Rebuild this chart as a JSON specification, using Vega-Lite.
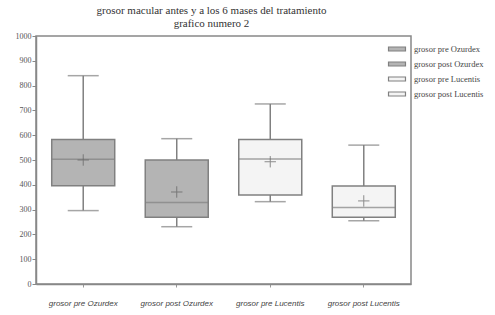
{
  "$schema": "https://vega.github.io/schema/vega-lite/v6.json",
  "autosize": "none",
  "width": 375,
  "height": 248,
  "padding": {"left": 36, "top": 36, "right": 84, "bottom": 31},
  "background": "white",
  "title": {
    "text": ["grosor macular antes y a los 6 mases del tratamiento", "grafico numero 2"],
    "font": "Liberation Serif",
    "fontSize": 11,
    "fontWeight": "normal",
    "color": "#333",
    "lineHeight": 13,
    "offset": 3,
    "dx": -12
  },
  "data": {
    "values": [
      {"grupo": "grosor pre Ozurdex", "lower": 296, "q1": 396, "median": 503, "q3": 583, "upper": 840, "mean": 500},
      {"grupo": "grosor post Ozurdex", "lower": 231, "q1": 269, "median": 329, "q3": 500, "upper": 586, "mean": 371},
      {"grupo": "grosor pre Lucentis", "lower": 332, "q1": 359, "median": 504, "q3": 583, "upper": 726, "mean": 493},
      {"grupo": "grosor post Lucentis", "lower": 255, "q1": 269, "median": 308, "q3": 395, "upper": 560, "mean": 335}
    ]
  },
  "encoding": {
    "x": {
      "field": "grupo",
      "type": "nominal",
      "sort": null,
      "scale": {"paddingInner": 0.33, "paddingOuter": 0.17},
      "axis": {
        "title": null,
        "labelAngle": 0,
        "labelFont": "Liberation Sans",
        "labelFontStyle": "italic",
        "labelFontSize": 8,
        "labelColor": "#444",
        "labelPadding": 12,
        "tickSize": 3,
        "tickColor": "#999",
        "domainColor": "#888",
        "domainWidth": 1.5
      }
    }
  },
  "layer": [
    {
      "mark": {"type": "rule", "color": "#808080", "strokeWidth": 1.5},
      "encoding": {
        "y": {
          "field": "lower",
          "type": "quantitative",
          "scale": {"domain": [0, 1000], "nice": false},
          "axis": {"values": [0, 100, 200, 300, 400, 500, 600, 700, 800, 900, 1000]}
        },
        "y2": {"field": "upper"}
      }
    },
    {
      "mark": {"type": "tick", "color": "#808080", "thickness": 1.5, "size": 31},
      "encoding": {"y": {"field": "lower", "type": "quantitative", "axis": {"values": [0, 100, 200, 300, 400, 500, 600, 700, 800, 900, 1000]}}}
    },
    {
      "mark": {"type": "tick", "color": "#808080", "thickness": 1.5, "size": 31},
      "encoding": {"y": {"field": "upper", "type": "quantitative", "axis": {"values": [0, 100, 200, 300, 400, 500, 600, 700, 800, 900, 1000]}}}
    },
    {
      "mark": {"type": "bar", "stroke": "#808080", "strokeWidth": 1.5, "size": 63},
      "encoding": {
        "y": {"field": "q1", "type": "quantitative", "axis": {"values": [0, 100, 200, 300, 400, 500, 600, 700, 800, 900, 1000]}},
        "y2": {"field": "q3"},
        "fill": {
          "field": "grupo",
          "type": "nominal",
          "sort": null,
          "scale": {
            "domain": ["grosor pre Ozurdex", "grosor post Ozurdex", "grosor pre Lucentis", "grosor post Lucentis"],
            "range": ["#b4b4b4", "#b4b4b4", "#f4f4f4", "#f4f4f4"]
          },
          "legend": {
            "title": null,
            "orient": "none",
            "legendX": 356,
            "legendY": 8,
            "padding": 0,
            "symbolType": "M-2,-0.47H2V0.47H-2Z",
            "symbolSize": 72,
            "symbolStrokeColor": "#808080",
            "symbolStrokeWidth": 1.2,
            "symbolOpacity": 1,
            "labelFont": "Liberation Serif",
            "labelFontSize": 8.5,
            "labelColor": "#444",
            "labelOffset": 12,
            "rowPadding": 5
          }
        }
      }
    },
    {
      "mark": {"type": "tick", "color": "#808080", "thickness": 1.5, "size": 63},
      "encoding": {"y": {"field": "median", "type": "quantitative", "axis": {"values": [0, 100, 200, 300, 400, 500, 600, 700, 800, 900, 1000]}}}
    },
    {
      "mark": {"type": "point", "shape": "M-1,0H1M0,-1V1", "filled": false, "color": "#606060", "strokeWidth": 1, "size": 130},
      "encoding": {"y": {"field": "mean", "type": "quantitative", "axis": {"values": [0, 100, 200, 300, 400, 500, 600, 700, 800, 900, 1000]}}}
    }
  ],
  "config": {
    "view": {"stroke": "#888", "strokeWidth": 1.5},
    "axis": {"grid": false},
    "axisY": {
      "title": null,
      "format": "d",
      "labelOverlap": false,
      "labelFont": "Liberation Serif",
      "labelFontSize": 8,
      "labelColor": "#555",
      "tickSize": 4,
      "tickColor": "#888",
      "domainColor": "#888",
      "domainWidth": 1.5,
      "labelPadding": 1
    }
  }
}
